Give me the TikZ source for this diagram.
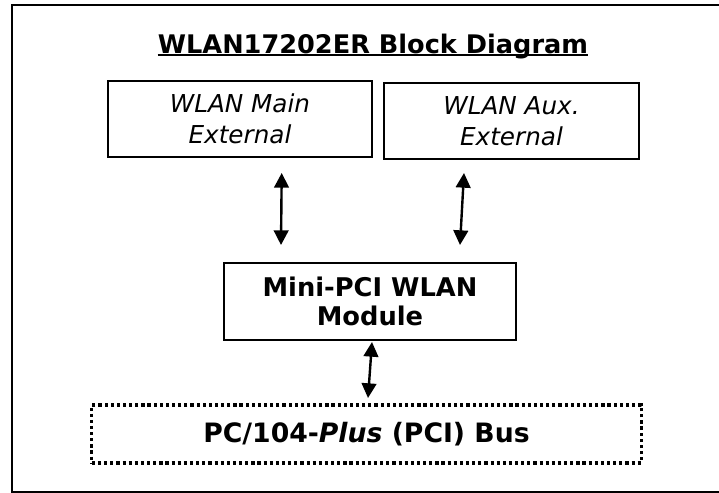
\documentclass[tikz,border=0pt]{standalone}
\usepackage{fontspec}
\setmainfont{DejaVu Sans}
\usetikzlibrary{arrows.meta}
\tikzset{
  blk/.style={draw,thick,inner sep=0pt,align=center,font=\fontsize{18.5}{23}\selectfont},
  antbox/.style={blk,line width=1.4pt,minimum width=198pt,minimum height=57pt,font=\fontsize{18.5}{23}\selectfont\itshape},
  biarrow/.style={line width=1.8pt,{Triangle[width=11pt,length=11pt]}-{Triangle[width=11pt,length=11pt]}}
}

\begin{document}
\begin{tikzpicture}[x=0.75pt,y=-0.75pt]
\useasboundingbox (0,0) rectangle (719,493);
\draw[line width=2.2pt] (12,5) rectangle (730,492);
% title
\node[inner sep=0pt,anchor=base,font=\fontsize{19.2}{22}\selectfont\bfseries] (title) at (373,53) {WLAN17202ER Block Diagram};
\draw[line width=1.3pt] ([yshift=-1.7pt]title.base west) -- ([yshift=-1.7pt]title.base east);
% antennas
\node[antbox] (main) at (240,119) {WLAN Main\\External};
\node[antbox,minimum width=191pt] (aux) at (511.5,121) {WLAN Aux.\\External};
% module and bus
\node[blk,line width=1.9pt,minimum width=219pt,minimum height=58pt,font=\fontsize{19.3}{22}\selectfont\bfseries] (mod) at (370,301.5) {Mini-PCI WLAN\\Module};
\node[blk,line width=2.4pt,dash pattern=on 2.4pt off 2.2pt,minimum width=412pt,minimum height=43.5pt,font=\fontsize{20}{22}\selectfont\bfseries] (bus) at (366.5,434) {PC/104-\textit{Plus} (PCI) Bus};
% arrow ends
\coordinate (m1) at (281.7,173);
\coordinate (m2) at (281,245);
\coordinate (a1) at (464,173);
\coordinate (a2) at (460,245);
\coordinate (b1) at (372,342);
\coordinate (b2) at (368,398);
\draw[biarrow] (m1) -- (m2);
\draw[biarrow] (a1) -- (a2);
\draw[biarrow] (b1) -- (b2);
\end{tikzpicture}
\end{document}
